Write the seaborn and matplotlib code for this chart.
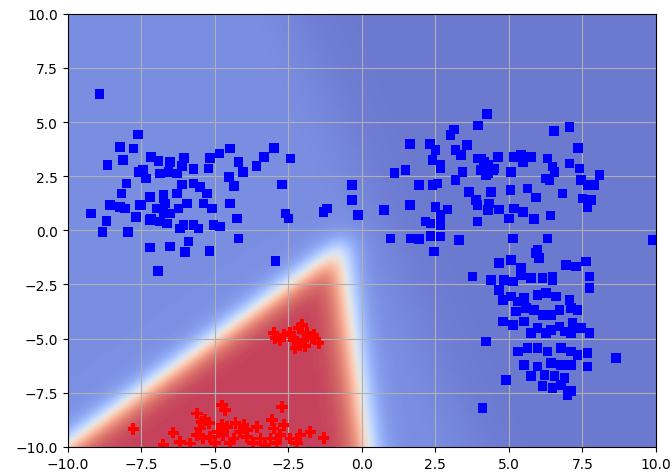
import numpy as np
import pandas as pd
import matplotlib
matplotlib.use("Agg")
import matplotlib.pyplot as plt
import seaborn as sns

# class 0 (blue squares)
blue_x = [-8.93, -7.62, -8.23, -7.77, -8.65, -8.13, -7.18, -6.92, -6.52, -6.05,
          -6.12, -5.73, -5.16, -5.22, -4.84, -4.48, -4.19, -4.04, -3.59, -3.32,
          -2.98, -2.43, -2.71, -4.53, -4.34, -2.60, -2.49, -2.94, -7.45, -7.34,
          -8.00, -8.17, -8.57, -8.23, -8.06, -9.22, -8.68, -8.82, -7.96, -7.68,
          -7.49, -7.20, -7.18, -6.86, -6.75, -6.69, -6.75, -6.63, -6.29, -6.12,
          -5.95, -6.24, -6.07, -5.73, -5.56, -5.73, -5.50, -5.27, -5.39, -5.10,
          -5.05, -4.82, -4.48, -4.25, -4.19, -7.20, -6.52, -5.90, -6.01, -5.18,
          -6.94, -7.60, -6.86, -6.58, -6.29, -6.75, -7.55, -6.98, -6.52, -7.20,
          -6.18,
          -0.33, -0.33, -1.30, -1.18, -0.14,
          4.25, 3.95, 3.14, 3.02, 1.64, 2.32, 2.51, 2.40, 2.68, 2.68,
          3.19, 3.37, 3.57, 3.93, 4.16, 4.05, 4.28, 4.45, 4.62, 3.42,
          3.19, 1.11, 1.49, 1.94, 2.40, 2.57, 3.65, 3.88, 3.93, 4.39,
          4.33, 1.64, 0.75, 2.51, 2.91, 2.68, 4.28, 4.67, 2.17, 2.34,
          2.68, 3.93, 0.98, 1.66, 1.94, 2.34, 2.68, 3.31, 2.45,
          4.05, 4.28, 4.50, 4.22, 5.18, 5.41,
          6.53, 7.06, 7.36, 5.35, 5.75, 5.47, 6.32, 6.49, 6.55, 7.06,
          7.40, 5.07, 6.38, 6.26, 7.46, 7.68, 7.91, 8.08, 5.05, 5.64,
          5.92, 6.83, 7.51, 7.80, 7.68, 5.18, 5.47, 5.01, 5.86, 6.41,
          5.13, 6.32, 9.90, 5.98,
          5.92, 6.03, 4.67, 5.07, 5.41, 5.41, 5.75, 6.15, 6.49, 6.94,
          7.29, 7.63, 7.74, 7.74, 3.76, 4.39, 4.84, 5.13, 6.49, 4.67,
          4.79, 5.07, 5.30, 5.52, 5.98, 6.26, 6.60, 7.06, 5.24, 5.58,
          5.86, 6.15, 6.43, 6.72, 7.12, 7.34, 4.79, 5.13, 5.52, 5.98,
          6.43, 6.72, 7.17, 7.46, 7.74, 5.75, 6.26, 6.89, 7.12, 4.22,
          5.30, 5.64, 5.98, 6.32, 6.77, 7.12, 7.34, 7.68, 7.68, 5.52,
          5.98, 6.43, 6.77, 7.12, 5.75, 6.21, 6.55, 6.89, 4.90, 6.15,
          6.49, 6.77, 7.12, 7.00, 8.65, 4.10]
blue_y = [6.31, 4.42, 3.86, 3.78, 3.01, 3.24, 3.40, 3.19, 3.16, 3.35,
          2.98, 2.83, 3.35, 2.86, 3.55, 3.78, 3.16, 2.70, 2.98, 3.40,
          3.81, 3.32, 2.12, 2.47, 2.06, 0.78, 0.55, -1.41, 2.78, 2.40,
          2.17, 1.71, 1.17, 1.09, 1.01, 0.78, 0.43, -0.09, -0.09, 0.63,
          1.17, 1.55, 0.55, 0.40, 1.63, 1.24, 0.86, 0.32, 1.71, 2.12,
          1.24, 1.01, 0.24, 0.24, 0.09, 2.17, 2.01, 1.71, 1.24, 1.01,
          0.24, 0.17, 1.24, 0.55, -0.37, -0.80, -0.75, -0.52, -1.01, -0.95,
          -1.88, 2.70, 2.63, 2.70, 2.63, 1.47, 1.17, 1.01, 0.78, 0.47,
          0.09,
          2.09, 1.40, 0.86, 1.01, 0.71,
          5.36, 4.85, 4.65, 4.39, 3.98, 3.98, 3.70, 3.24, 3.01, 2.86,
          3.70, 3.47, 3.93, 3.32, 3.17, 2.78, 2.63, 2.78, 3.40, 2.70,
          2.32, 2.66, 2.78, 2.09, 2.09, 2.17, 1.78, 1.40, 1.17, 1.78,
          1.24, 1.17, 0.94, 1.09, 0.97, 0.71, 0.94, 0.97, 0.40, 0.32,
          0.24, 0.40, -0.37, -0.37, -0.41, -0.26, -0.29, -0.45, -0.98,
          3.32, 3.01, 2.86, 2.55, 3.40, 3.47,
          4.58, 4.78, 3.81, 3.40, 3.40, 3.16, 3.32, 2.94, 2.70, 3.09,
          2.86, 2.70, 2.32, 2.40, 2.32, 2.09, 2.09, 2.55, 1.86, 1.94,
          1.51, 1.71, 1.47, 1.40, 1.09, 1.01, 0.86, 0.55, 0.52, 0.68,
          -0.37, -0.37, -0.45, -0.91,
          -1.06, -1.29, -1.52, -1.37, -1.75, -2.06, -2.21, -2.21, -2.13, -1.60,
          -1.67, -1.44, -2.13, -2.67, -2.13, -2.29, -2.29, -2.36, -2.29, -2.75,
          -3.21, -3.06, -3.29, -3.13, -2.98, -2.90, -3.06, -3.21, -3.75, -3.59,
          -3.67, -3.90, -3.90, -3.67, -3.59, -3.67, -4.21, -4.36, -4.21, -4.52,
          -4.59, -4.44, -4.29, -4.52, -4.75, -4.75, -4.75, -4.67, -4.75, -5.13,
          -5.59, -5.44, -5.44, -5.59, -5.44, -5.59, -5.75, -5.67, -6.28, -6.21,
          -6.28, -6.13, -6.21, -6.21, -6.74, -6.67, -6.74, -6.82, -6.90, -7.20,
          -7.28, -7.13, -7.43, -7.59, -5.90, -8.20]

# class 1 (red plus)
red_x = [-3.00, -2.94, -2.66, -2.43, -2.32, -2.03, -2.15, -1.86, -1.69, -1.47,
         -2.20, -2.09, -1.98, -2.77, -2.26, -1.92, -1.64,
         -7.77, -6.41, -5.61, -5.44, -5.33, -4.76, -4.65, -4.76, -4.59, -4.02,
         -3.57, -3.05, -3.00, -2.71, -2.66, -2.09, -1.30, -5.61, -5.39, -5.16,
         -5.50, -4.71, -4.36, -4.14, -3.91, -3.45, -3.11, -2.77, -2.43, -1.75,
         -6.18, -5.84, -6.75, -5.20, -4.90, -4.50, -5.00, -3.70, -3.30, -2.90,
         -2.20, -4.30, -3.90]
red_y = [-4.75, -4.98, -4.82, -4.75, -5.06, -4.36, -4.52, -4.75, -4.98, -5.21,
         -5.13, -5.29, -5.06, -5.06, -5.44, -5.36, -4.82,
         -9.18, -9.34, -8.46, -8.84, -8.77, -8.08, -8.31, -9.00, -9.07, -9.00,
         -9.09, -8.77, -9.15, -8.15, -9.00, -9.46, -9.58, -9.46, -9.61, -9.54,
         -9.15, -9.46, -9.61, -9.31, -9.54, -9.61, -9.61, -9.46, -9.61, -9.31,
         -9.76, -9.84, -9.92, -8.90, -9.30, -9.80, -9.80, -9.80, -9.90, -9.80,
         -9.80, -8.90, -9.20]

# decision region (two soft half-planes)
left_slope, left_icpt = 0.98, -0.05
right_a, right_b = -0.1, -0.8
sharp = 3.8

df = pd.DataFrame({
    "x": blue_x + red_x,
    "y": blue_y + red_y,
    "cls": ["0"] * len(blue_x) + ["1"] * len(red_x),
})

gx, gy = np.meshgrid(np.linspace(-10, 10, 220), np.linspace(-10, 10, 220))
sig = lambda z: 1 / (1 + np.exp(-z))
d1 = (left_slope * gx + left_icpt - gy) / np.hypot(1, left_slope)
d2 = (right_a * gy + right_b - gx) / np.hypot(1, right_a)
prob = sig(sharp * d1) * sig(sharp * d2)
prob = prob + 0.07 * sig(-1.5 * (gx + 0.3 * (gy - 4) + 0.5)) * (1 - prob)

fig, ax = plt.subplots(figsize=(6.72, 4.77), dpi=100)
fig.subplots_adjust(left=0.101, right=0.976, top=0.969, bottom=0.061)
ax.imshow(prob, extent=(-10, 10, -10, 10), origin="lower", cmap="coolwarm",
          vmin=0, vmax=1, alpha=0.75, aspect="auto", zorder=0)

sns.scatterplot(data=df, x="x", y="y", hue="cls", style="cls",
                palette={"0": "blue", "1": "red"},
                markers={"0": "s", "1": "P"},
                size="cls", sizes={"0": 48, "1": 70},
                linewidth=0, legend=False, ax=ax, zorder=3)

ax.set_xlim(-10, 10)
ax.set_ylim(-10, 10)
ax.set_xlabel("")
ax.set_ylabel("")
ax.grid(True, color="#b0b0b0")
fig.savefig("out.png", dpi=100)
